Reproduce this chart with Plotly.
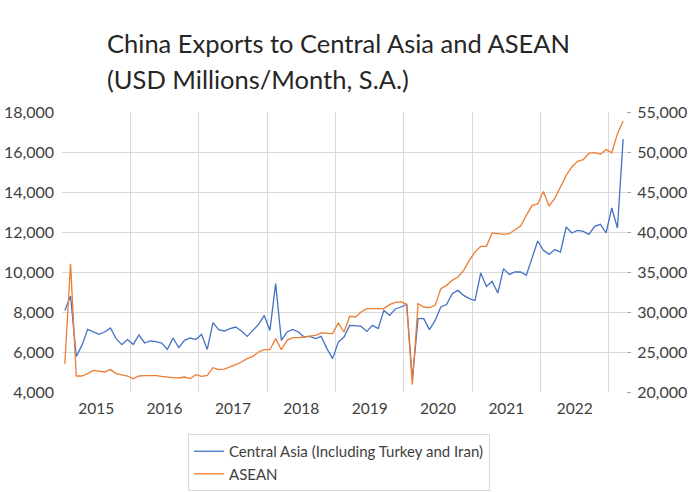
import plotly.graph_objects as go
import pandas as pd

months = pd.period_range("2015-01", periods=99, freq="M").strftime("%Y-%m").tolist()
year_labels = ["2015", "2016", "2017", "2018", "2019", "2020", "2021", "2022"]

central_asia = [
    8080, 8800, 5780, 6330, 7130, 7000, 6880, 7000, 7200, 6670, 6370, 6620,
    6380, 6850, 6450, 6550, 6520, 6450, 6130, 6700, 6220, 6580, 6700, 6620,
    6880, 6130, 7470, 7120, 7050, 7170, 7250, 7050, 6780, 7080, 7380, 7830,
    7080, 9420, 6580, 7000, 7130, 7000, 6750, 6780, 6670, 6780, 6170, 5670,
    6500, 6750, 7330, 7320, 7280, 7030, 7330, 7170, 8080, 7830, 8150, 8250,
    8380, 4650, 7670, 7670, 7120, 7580, 8250, 8370, 8920, 9080, 8830, 8670,
    8580, 9950, 9280, 9530, 8950, 10170, 9880, 10000, 10000, 9830, 10700, 11550,
    11080, 10880, 11120, 11000, 12250, 11950, 12080, 12030, 11880, 12280, 12380, 11950,
    13200, 12200, 16650,
]

asean = [
    23540, 36040, 22000, 22000, 22300, 22700, 22600, 22500, 22800, 22300, 22150, 22000,
    21650, 22000, 22050, 22050, 22050, 21950, 21850, 21800, 21750, 21870, 21670, 22170,
    21960, 22080, 23040, 22790, 22870, 23120, 23420, 23750, 24170, 24460, 25000, 25290,
    25290, 26670, 25290, 26460, 26790, 26790, 26880, 26960, 27080, 27380, 27380, 27290,
    28620, 27500, 29460, 29380, 30000, 30420, 30420, 30420, 30420, 30920, 31200, 31300,
    30950, 20900, 31040, 30625, 30540, 30830, 32920, 33330, 33960, 34370, 35210, 36460,
    37500, 38210, 38210, 39880, 39790, 39710, 39790, 40300, 40750, 42080, 43300, 43500,
    45050, 43250, 44200, 45630, 47080, 48130, 48830, 49040, 49850, 49920, 49710, 50300,
    49900, 52290, 53880,
]

left_ticks = [4000, 6000, 8000, 10000, 12000, 14000, 16000, 18000]
right_ticks = [20000, 25000, 30000, 35000, 40000, 45000, 50000, 55000]

title_lines = ["China Exports to Central Asia and ASEAN", "(USD Millions/Month, S.A.)"]

x = list(range(len(months)))
year_centers = []
for yl in year_labels:
    idx = [i for i, m in enumerate(months) if m.startswith(yl)]
    year_centers.append((idx[0] + idx[-1]) / 2)
year_bounds = [i - 0.5 for i, m in enumerate(months) if m.endswith("-01") and i > 0]

FONT = "Lato, 'Noto Sans', sans-serif"
GRID = "#D9D9D9"
TXT = "#404040"

PLOT_LEFT, PLOT_RIGHT = 62, 626
PLOT_TOP, PLOT_BOTTOM = 112, 392
PLOT_W = PLOT_RIGHT - PLOT_LEFT
PLOT_H = PLOT_BOTTOM - PLOT_TOP


def paper_x(px):
    return (px - PLOT_LEFT) / PLOT_W


def paper_y(py):
    return (PLOT_BOTTOM - py) / PLOT_H


fig = go.Figure()
fig.add_trace(go.Scatter(
    x=x, y=central_asia, name="Central Asia (Including Turkey and Iran)",
    mode="lines", line=dict(color="#4472C4", width=1.3), yaxis="y",
))
fig.add_trace(go.Scatter(
    x=x, y=asean, name="ASEAN",
    mode="lines", line=dict(color="#ED7D31", width=1.3), yaxis="y2",
))

for txt, cy in zip(title_lines, [43, 79]):
    fig.add_annotation(
        text=txt, xref="paper", yref="paper",
        x=paper_x(105), y=paper_y(cy), xanchor="left", yanchor="middle",
        showarrow=False, font=dict(family=FONT, size=25.5, color="#262626"),
    )

fig.update_layout(
    width=690, height=492,
    margin=dict(l=PLOT_LEFT, r=690 - PLOT_RIGHT, t=PLOT_TOP, b=492 - PLOT_BOTTOM,
                autoexpand=False),
    paper_bgcolor="white", plot_bgcolor="white",
    font=dict(family=FONT, color=TXT),
    xaxis=dict(
        range=[-0.5, len(months) - 0.5],
        tickmode="array", tickvals=year_centers, ticktext=year_labels,
        showgrid=False, zeroline=False, showline=False, ticks="",
        tickfont=dict(size=15.5, color=TXT),
        ticklabelstandoff=5,
        minor=dict(tickmode="array", tickvals=year_bounds, showgrid=True,
                   gridcolor=GRID, gridwidth=1, ticks=""),
    ),
    yaxis=dict(
        range=[left_ticks[0], left_ticks[-1]],
        tickmode="array", tickvals=left_ticks, tickformat=",",
        showgrid=False, zeroline=False, showline=False, ticks="",
        tickfont=dict(size=16, color=TXT),
        ticklabelstandoff=7,
        minor=dict(tickmode="array", tickvals=left_ticks[1:-1], showgrid=True,
                   gridcolor=GRID, gridwidth=1, ticks=""),
    ),
    yaxis2=dict(
        range=[right_ticks[0], right_ticks[-1]],
        overlaying="y", side="right",
        tickmode="array", tickvals=right_ticks, tickformat=",",
        showgrid=False, zeroline=False, showline=False,
        ticks="outside", ticklen=4, tickwidth=1, tickcolor="#A6A6A6",
        tickfont=dict(size=16, color=TXT),
        ticklabelstandoff=3,
    ),
    legend=dict(
        x=paper_x(188), y=paper_y(434),
        xanchor="left", yanchor="top",
        bordercolor=GRID, borderwidth=1,
        font=dict(size=15, color=TXT, family=FONT),
        bgcolor="white",
    ),
    showlegend=True,
)

fig.write_html("out.html", config={"displayModeBar": False},
               post_script="document.body.style.margin='0';")
